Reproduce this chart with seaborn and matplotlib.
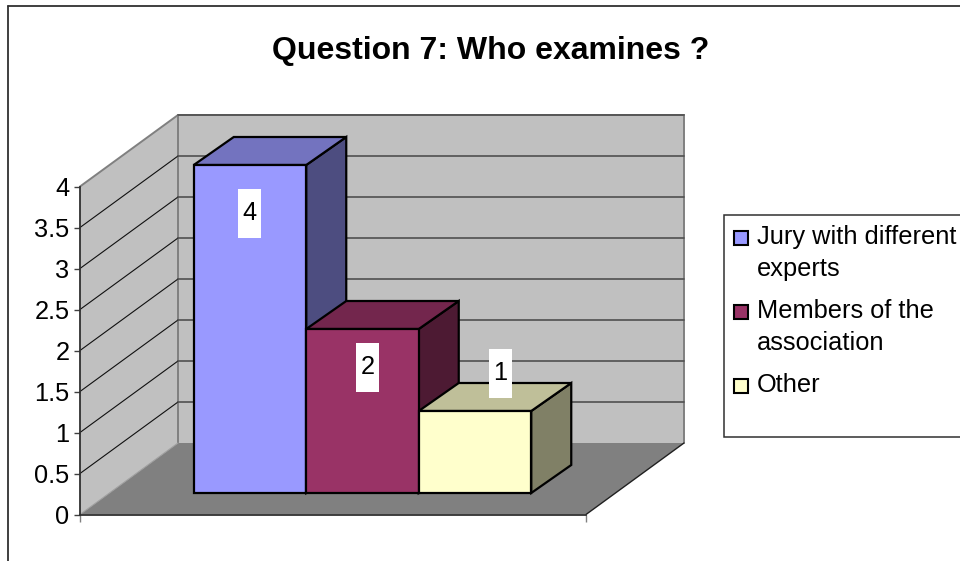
import matplotlib
matplotlib.use("Agg")
import matplotlib.pyplot as plt
import numpy as np
import pandas as pd
import seaborn as sns
from matplotlib.patches import Polygon, Rectangle
from matplotlib.transforms import Affine2D

# ---- data ----
categories = ["Jury with different\nexperts", "Members of the\nassociation", "Other"]
values = [4, 2, 1]
y_ticks = [0, 0.5, 1, 1.5, 2, 2.5, 3, 3.5, 4]
y_tick_labels = ["0", "0.5", "1", "1.5", "2", "2.5", "3", "3.5", "4"]
title = "Question 7: Who examines ?"

# ---- styles ----
front_colors = ["#9999FF", "#993366", "#FFFFCC"]
top_colors = ["#7373BF", "#73264D", "#BFBF99"]
side_colors = ["#4D4D80", "#4D1A33", "#808066"]
FONT = "Liberation Sans"
FS = 18.3

W, H, DPI = 960, 561, 100
PX_PER_UNIT = 82.0
CAT_PX = 112.5
BAR0_CENTER = 250.0
BAR_BASE = 493.0
DEPTH_X, DEPTH_Y = 40.0, 28.0
# offset of the data labels from the bar's top centre, in pixels (right, down)
label_shift = [(-1, 48), (5, 38), (25, -38)]

sns.set_theme(style="white")
plt.rcParams["font.family"] = [FONT, "DejaVu Sans"]

fig = plt.figure(figsize=(W / DPI, H / DPI), dpi=DPI, facecolor="white")
px = Affine2D().scale(1, -1).translate(0, H)   # top-left pixel coordinates


def add_poly(ax, pts, fc, ec="none", lw=0.0, z=1, tr=None):
    ax.add_patch(Polygon(pts, closed=True, facecolor=fc, edgecolor=ec, linewidth=lw,
                         zorder=z, transform=tr if tr is not None else px,
                         joinstyle="miter", clip_on=False))


# main axes cover the figure; data scale matches the bars' front plane
ax = fig.add_axes([0, 0, 1, 1])
ax.set_axis_off()
df = pd.DataFrame({"who": categories, "n": values})
sns.barplot(data=df, x="who", y="n", hue="who", palette=front_colors, saturation=1,
            width=1.0, dodge=False, legend=False, edgecolor="black", linewidth=1.6,
            ax=ax, zorder=6)
ax.set_xlim((0 - BAR0_CENTER) / CAT_PX, (W - BAR0_CENTER) / CAT_PX)
ax.set_ylim((BAR_BASE - H) / PX_PER_UNIT, BAR_BASE / PX_PER_UNIT)
ax.set_xlabel("")
ax.set_ylabel("")

# chart frame
ax.plot([8, 8], [H, 6], transform=px, color="#303030", lw=1.3, clip_on=False, zorder=0.5)
ax.plot([8, W], [6, 6], transform=px, color="#303030", lw=1.3, clip_on=False, zorder=0.5)

# walls and floor
FX, FY0, BX, BX2, BY0, BTOP, FX2 = 80, 514.5, 178, 684, 443, 115, 586
add_poly(ax, [(BX, BTOP), (BX2, BTOP), (BX2, BY0), (BX, BY0)], "#C0C0C0", z=1)
add_poly(ax, [(FX, 186.5), (BX, BTOP), (BX, BY0), (FX, FY0)], "#C0C0C0", z=1)
add_poly(ax, [(FX, FY0), (BX, BY0), (BX2, BY0), (FX2, FY0)], "#808080", z=1)
ax.plot([FX, BX, BX2, BX2], [186.5, BTOP, BTOP, BY0], transform=px, color="#808080",
        lw=1.4, clip_on=False, zorder=1.5, solid_joinstyle="miter")
ax.plot([BX, BX], [BTOP, BY0], transform=px, color="#808080", lw=1.4, zorder=1.5, clip_on=False)
ax.plot([BX, FX], [BY0, FY0], transform=px, color="#A0A0A0", lw=0.8, zorder=1.5, clip_on=False)
ax.plot([BX2, FX2], [BY0, FY0], transform=px, color="#202020", lw=1.0, zorder=1.5, clip_on=False)
for v in y_ticks[1:-1]:
    ax.plot([FX, BX], [FY0 - PX_PER_UNIT * v, BY0 - PX_PER_UNIT * v], transform=px,
            color="#101010", lw=0.8, zorder=1.6, clip_on=False)
for v in y_ticks[1:]:
    ax.plot([BX, BX2], [BY0 - PX_PER_UNIT * v] * 2, transform=px,
            color="#505050", lw=1.2, zorder=1.6, clip_on=False)

# depth of every bar, derived from the drawn bar
dx, dy = DEPTH_X / CAT_PX, DEPTH_Y / PX_PER_UNIT
bars = [b for b in ax.patches if isinstance(b, Rectangle) and b.get_height() > 0]
bars.sort(key=lambda b: b.get_x())
for i, b in enumerate(bars):
    x0, x1, h = b.get_x(), b.get_x() + b.get_width(), b.get_height()
    add_poly(ax, [(x1, 0), (x1 + dx, dy), (x1 + dx, h + dy), (x1, h)], side_colors[i],
             ec="black", lw=1.6, z=2 + i, tr=ax.transData)
    add_poly(ax, [(x0, h), (x0 + dx, h + dy), (x1 + dx, h + dy), (x1, h)], top_colors[i],
             ec="black", lw=1.6, z=2 + i, tr=ax.transData)
    b.set_zorder(6)
    # data label with its white box
    cx = BAR0_CENTER + CAT_PX * (x0 + x1) / 2 + label_shift[i][0]
    cy = BAR_BASE - PX_PER_UNIT * h + label_shift[i][1]
    ax.add_patch(Rectangle((cx - 11.5, cy - 24.5), 23, 49, facecolor="white", edgecolor="none",
                           transform=px, zorder=7, clip_on=False))
    ax.text(cx, cy, str(values[i]), transform=px, ha="center", va="center", fontsize=FS,
            family=FONT, color="black", zorder=8)

# value axis and category line in their own axes, on the front plane of the box
ax2 = fig.add_axes([FX / W, 1 - FY0 / H, (FX2 - FX) / W, 328 / H])
ax2.patch.set_alpha(0)
ax2.set_ylim(0, 4)
ax2.set_xlim(0, 1)
ax2.set_yticks(y_ticks)
ax2.set_yticklabels(y_tick_labels, fontsize=FS, family=FONT, color="black")
ax2.set_xticks([0, 1])
ax2.set_xticklabels(["", ""])
ax2.tick_params(axis="y", left=True, length=4, width=1.0, color="#404040", pad=3.5)
ax2.tick_params(axis="x", bottom=True, length=5, width=1.0, color="#808080")
sns.despine(ax=ax2, top=True, right=True)
for s in ("left", "bottom"):
    ax2.spines[s].set_color("#303030")
    ax2.spines[s].set_linewidth(1.3)

# title
ax.text(490.5, 51, title, transform=px, ha="center", va="center", fontsize=23,
        fontweight="bold", family=FONT, color="black", zorder=9)

# legend box with its keys
ax.add_patch(Rectangle((724, 215), 240, 222, facecolor="white", edgecolor="#303030", lw=1.1,
                       transform=px, zorder=3, clip_on=True))
key_y = [238, 312, 386]
for name, col, ky in zip(categories, front_colors, key_y):
    ax.add_patch(Rectangle((734, ky - 7), 14, 14, facecolor=col, edgecolor="black", lw=1.5,
                           transform=px, zorder=4, clip_on=False))
    for j, line in enumerate(name.split("\n")):
        ax.text(757, ky + 6 + 32 * j, line, transform=px, ha="left", va="baseline",
                fontsize=FS, family=FONT, color="black", zorder=4)

fig.savefig("out.png", dpi=DPI, facecolor="white")
